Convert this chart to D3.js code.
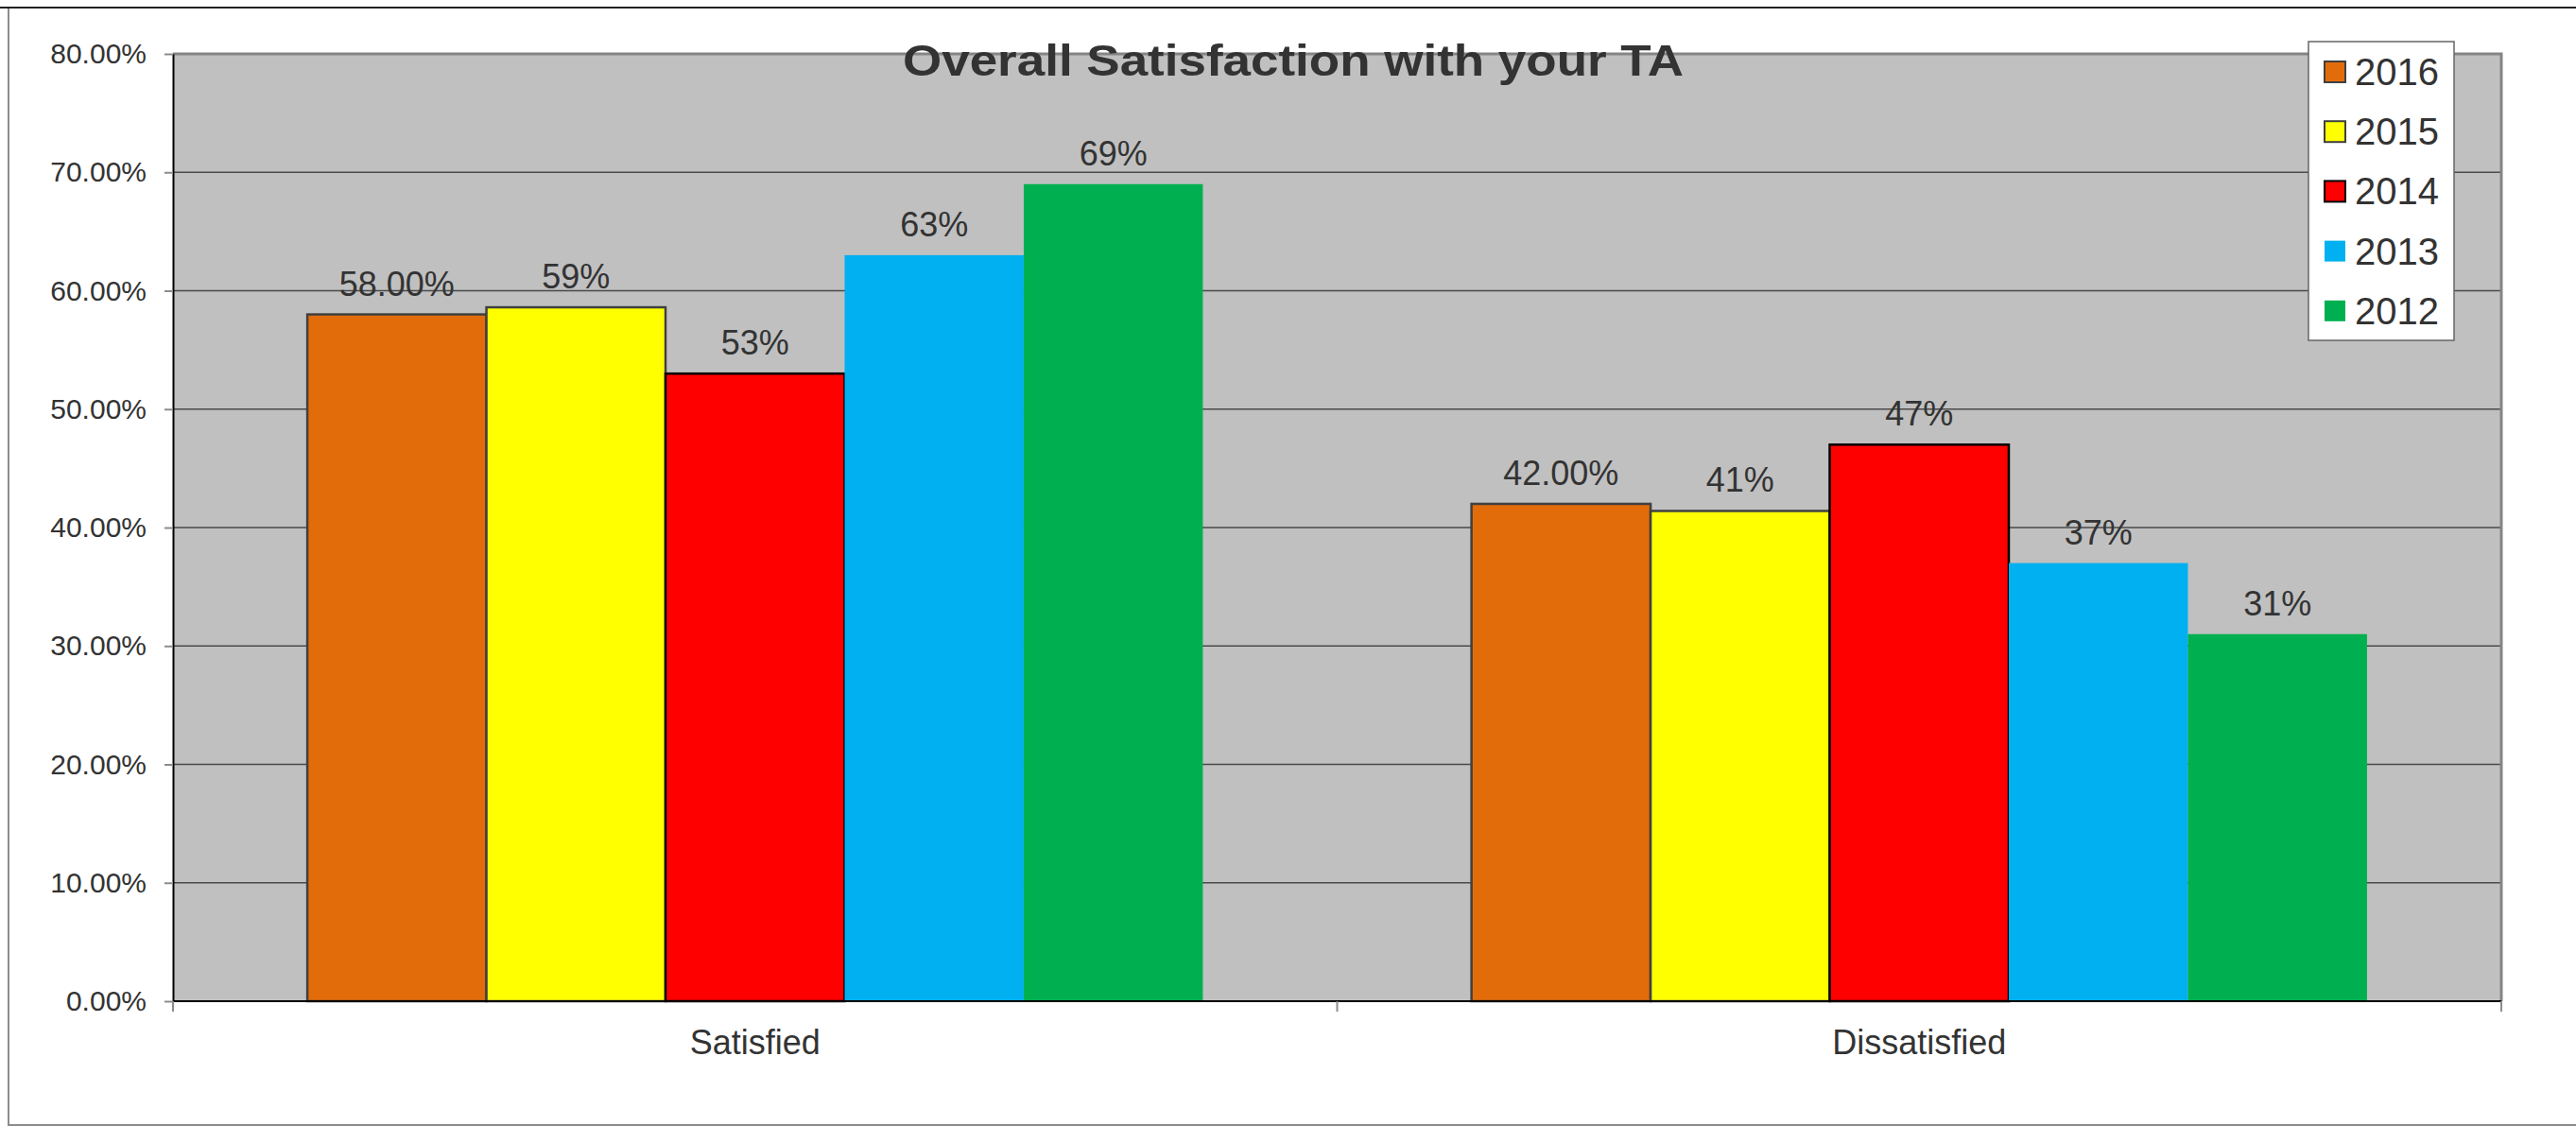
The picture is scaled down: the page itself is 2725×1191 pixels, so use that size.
<!DOCTYPE html>
<html>
<head>
<meta charset="utf-8">
<script src="https://cdnjs.cloudflare.com/ajax/libs/d3/7.8.5/d3.min.js"></script>
<style>
  body { margin: 0; background: #fff; }
  text { font-family: "Liberation Sans", Arial, sans-serif; fill: #333; }
</style>
</head>
<body>
<div class="chart"></div>
<script>
// Overall Satisfaction with your TA - grouped bars

var categories = ["Satisfied", "Dissatisfied"];
var years = ["2016", "2015", "2014", "2013", "2012"];

// one array per year (Satisfied, Dissatisfied)
var values2016 = [58, 42];
var values2015 = [58.6, 41.4];
var values2014 = [53, 47];
var values2013 = [63, 37];
var values2012 = [69, 31];

// data labels as printed on the chart
var labels2016 = ["58.00%", "42.00%"];
var labels2015 = ["59%", "41%"];
var labels2014 = ["53%", "47%"];
var labels2013 = ["63%", "37%"];
var labels2012 = ["69%", "31%"];

var yTicks = [0, 10, 20, 30, 40, 50, 60, 70, 80];

var barColors = ["#E36C0A", "#FFFF00", "#FF0000", "#00B0F0", "#00B050"];
var barStrokes = ["#404040", "#404040", "#000000", "none", "none"];

var svgWidth = 2725;
var svgHeight = 1191;

var margin = {
    top: 57,
    right: 79,
    bottom: 132,
    left: 183
};

var width = svgWidth - margin.left - margin.right;
var height = svgHeight - margin.top - margin.bottom;

var svg = d3.select(".chart")
    .append("svg")
    .attr("width", svgWidth)
    .attr("height", svgHeight);

// outer frame
svg.append("rect")
    .attr("x", 9)
    .attr("y", 8)
    .attr("width", svgWidth + 10)
    .attr("height", 1182)
    .attr("fill", "none")
    .attr("stroke", "#8c8c8c")
    .attr("stroke-width", 2);
svg.append("line")
    .attr("x1", 0).attr("x2", svgWidth)
    .attr("y1", 8).attr("y2", 8)
    .attr("stroke", "#222")
    .attr("stroke-width", 2);

var chartGroup = svg.append("g")
    .attr("transform", `translate(${margin.left}, ${margin.top})`);

var seriesValues = [values2016, values2015, values2014, values2013, values2012];
var seriesLabels = [labels2016, labels2015, labels2014, labels2013, labels2012];

var barData = [];
years.forEach(function (year, i) {
    categories.forEach(function (cat, j) {
        barData.push({
            year: year,
            category: cat,
            value: seriesValues[i][j],
            label: seriesLabels[i][j],
            idx: i
        });
    });
});

// scales
var x0 = d3.scaleBand()
    .domain(categories)
    .range([0, width])
    .padding(0);

var x1 = d3.scaleBand()
    .domain(years)
    .range([0, x0.bandwidth()])
    .paddingInner(0)
    .paddingOuter(0.75);

var yLinearScale = d3.scaleLinear()
    .domain([0, 80])
    .range([height, 0]);

// plot background
chartGroup.append("rect")
    .attr("width", width)
    .attr("height", height)
    .attr("fill", "#C0C0C0");

// gridlines
chartGroup.append("g")
    .selectAll("line")
    .data(yTicks.slice(1, -1))
    .enter()
    .append("line")
    .attr("x1", 0)
    .attr("x2", width)
    .attr("y1", d => yLinearScale(d))
    .attr("y2", d => yLinearScale(d))
    .attr("stroke", "#4a4a4a")
    .attr("stroke-width", 1.5);

// top and right plot border
chartGroup.append("path")
    .attr("d", `M0,0H${width}V${height}`)
    .attr("fill", "none")
    .attr("stroke", "#858585")
    .attr("stroke-width", 3);

// bars
chartGroup.append("g")
    .selectAll("rect")
    .data(barData)
    .enter()
    .append("rect")
    .attr("x", d => x0(d.category) + x1(d.year))
    .attr("y", d => yLinearScale(d.value))
    .attr("width", x1.bandwidth())
    .attr("height", d => height - yLinearScale(d.value))
    .attr("fill", d => barColors[d.idx])
    .attr("stroke", d => barStrokes[d.idx])
    .attr("stroke-width", 2.5);

// bar labels
chartGroup.append("g")
    .selectAll("text")
    .data(barData)
    .enter()
    .append("text")
    .attr("x", d => x0(d.category) + x1(d.year) + x1.bandwidth() / 2)
    .attr("y", d => yLinearScale(d.value) - 20)
    .attr("text-anchor", "middle")
    .style("font-size", "36px")
    .text(d => d.label);

// y axis
var leftAxis = d3.axisLeft(yLinearScale)
    .tickValues(yTicks)
    .tickSizeInner(9)
    .tickSizeOuter(0)
    .tickPadding(19)
    .tickFormat(d => d.toFixed(2) + "%");

var yAxis = chartGroup.append("g").call(leftAxis);
yAxis.select(".domain").attr("stroke", "#000").attr("stroke-width", 2);
yAxis.selectAll(".tick line").attr("stroke", "#8c8c8c").attr("stroke-width", 2);
yAxis.selectAll(".tick text")
    .attr("fill", "#333")
    .style("font-size", "30px")
    .style("font-family", "'Liberation Sans', Arial, sans-serif");

// x axis
chartGroup.append("line")
    .attr("x1", 0).attr("x2", width)
    .attr("y1", height).attr("y2", height)
    .attr("stroke", "#000")
    .attr("stroke-width", 2);

var xEdges = [0].concat(categories.map(c => x0(c) + x0.bandwidth()));
chartGroup.append("g")
    .selectAll("line")
    .data(xEdges)
    .enter()
    .append("line")
    .attr("x1", d => d).attr("x2", d => d)
    .attr("y1", height).attr("y2", height + 11)
    .attr("stroke", "#8c8c8c")
    .attr("stroke-width", 2);

chartGroup.append("g")
    .selectAll("text")
    .data(categories)
    .enter()
    .append("text")
    .attr("x", d => x0(d) + x0.bandwidth() / 2)
    .attr("y", height + 56)
    .attr("text-anchor", "middle")
    .style("font-size", "36px")
    .text(d => d);

// title (narrow bold face)
svg.append("text")
    .attr("x", 1368)
    .attr("y", 80)
    .attr("text-anchor", "middle")
    .attr("textLength", 826)
    .attr("lengthAdjust", "spacingAndGlyphs")
    .style("font-family", "'Liberation Sans Narrow', 'Arial Narrow', 'Liberation Sans', Arial, sans-serif")
    .style("font-size", "46px")
    .style("font-weight", "bold")
    .text("Overall Satisfaction with your TA");

// legend
var legend = svg.append("g")
    .attr("transform", "translate(2442, 44)");

legend.append("rect")
    .attr("width", 154)
    .attr("height", 316)
    .attr("fill", "#fff")
    .attr("stroke", "#666")
    .attr("stroke-width", 1.5);

var legendItems = legend.selectAll(".legend-item")
    .data(years)
    .enter()
    .append("g")
    .attr("transform", (d, i) => `translate(0, ${32 + i * 63.2})`);

legendItems.append("rect")
    .attr("x", 17)
    .attr("y", -11)
    .attr("width", 22)
    .attr("height", 22)
    .attr("fill", (d, i) => barColors[i])
    .attr("stroke", (d, i) => barStrokes[i] === "none" ? "none" : (i === 2 ? "#000" : "#404040"))
    .attr("stroke-width", 2);

legendItems.append("text")
    .attr("x", 49)
    .attr("y", 14)
    .style("font-size", "40px")
    .text(d => d);
</script>
</body>
</html>
